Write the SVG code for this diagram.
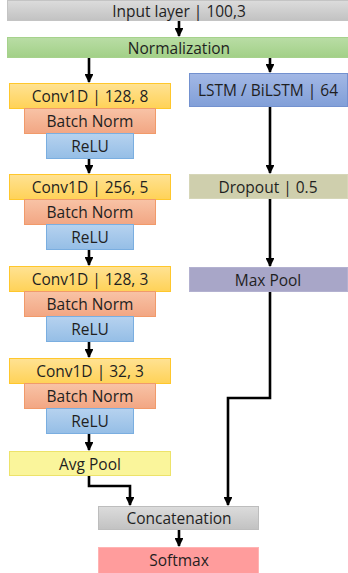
<svg xmlns="http://www.w3.org/2000/svg" width="348" height="573" viewBox="0 0 348 573">
  <defs>
    <linearGradient id="gGray" x1="0" y1="0" x2="0" y2="1"><stop offset="0" stop-color="#dcdcdc"/><stop offset="1" stop-color="#c2c2c2"/></linearGradient>
    <linearGradient id="gGreen" x1="0" y1="0" x2="0" y2="1"><stop offset="0" stop-color="#b9dda5"/><stop offset="1" stop-color="#a2d087"/></linearGradient>
    <linearGradient id="gConv" x1="0" y1="0" x2="0" y2="1"><stop offset="0" stop-color="#ffe293"/><stop offset="1" stop-color="#ffd257"/></linearGradient>
    <linearGradient id="gBN" x1="0" y1="0" x2="0" y2="1"><stop offset="0" stop-color="#f8c3a6"/><stop offset="1" stop-color="#f2a683"/></linearGradient>
    <linearGradient id="gRelu" x1="0" y1="0" x2="0" y2="1"><stop offset="0" stop-color="#b6d2ef"/><stop offset="1" stop-color="#95bee6"/></linearGradient>
    <linearGradient id="gLstm" x1="0" y1="0" x2="0" y2="1"><stop offset="0" stop-color="#a3b8e5"/><stop offset="1" stop-color="#819fd8"/></linearGradient>
    <marker id="arrow" viewBox="0 0 10 10" refX="9" refY="5" markerWidth="3.4" markerHeight="3.4" orient="auto" markerUnits="strokeWidth">
      <path d="M0,0 L10,5 L0,10 Z" fill="#000"/>
    </marker>
  </defs>
  <style>
    text { font-family: "Open Sans", "Liberation Sans", sans-serif; font-size: 15.5px; fill: #1f1f1f; text-anchor: middle; dominant-baseline: central; }
    .edge { fill: none; stroke: #000; stroke-width: 2.6; marker-end: url(#arrow); }
    .conv { fill: url(#gConv); stroke: #ffc72c; stroke-width: 1; }
    .bn { fill: url(#gBN); stroke: #f19a6a; stroke-width: 1; }
    .relu { fill: url(#gRelu); stroke: #7aaee0; stroke-width: 1; }
  </style>

  <g id="input-layer">
    <rect x="7.5" y="0.5" width="341" height="20" fill="url(#gGray)" stroke="#c4c4c4"/>
    <text x="179" y="11">Input layer | 100,3</text>
  </g>
  <g id="normalization">
    <rect x="7.5" y="37.5" width="341" height="20" fill="url(#gGreen)" stroke="#a6d28c"/>
    <text x="179" y="47.5">Normalization</text>
  </g>

  <!-- convolutional branch -->
  <g id="conv1">
    <rect class="conv" x="9.5" y="83.5" width="161" height="25"/>
    <text x="90" y="96">Conv1D | 128, 8</text>
  </g>
  <g id="bn1">
    <rect class="bn" x="24.5" y="108.5" width="131" height="25"/>
    <text x="90" y="121">Batch Norm</text>
  </g>
  <g id="relu1">
    <rect class="relu" x="46.5" y="133.5" width="87" height="25"/>
    <text x="90" y="146">ReLU</text>
  </g>

  <g id="conv2">
    <rect class="conv" x="9.5" y="174.5" width="161" height="25"/>
    <text x="90" y="187">Conv1D | 256, 5</text>
  </g>
  <g id="bn2">
    <rect class="bn" x="24.5" y="199.5" width="131" height="25"/>
    <text x="90" y="212">Batch Norm</text>
  </g>
  <g id="relu2">
    <rect class="relu" x="46.5" y="224.5" width="87" height="25"/>
    <text x="90" y="237">ReLU</text>
  </g>

  <g id="conv3">
    <rect class="conv" x="9.5" y="266.5" width="161" height="25"/>
    <text x="90" y="279">Conv1D | 128, 3</text>
  </g>
  <g id="bn3">
    <rect class="bn" x="24.5" y="291.5" width="131" height="25"/>
    <text x="90" y="304">Batch Norm</text>
  </g>
  <g id="relu3">
    <rect class="relu" x="46.5" y="316.5" width="87" height="25"/>
    <text x="90" y="329">ReLU</text>
  </g>

  <g id="conv4">
    <rect class="conv" x="9.5" y="358.5" width="161" height="25"/>
    <text x="90" y="371">Conv1D | 32, 3</text>
  </g>
  <g id="bn4">
    <rect class="bn" x="24.5" y="383.5" width="131" height="25"/>
    <text x="90" y="396">Batch Norm</text>
  </g>
  <g id="relu4">
    <rect class="relu" x="46.5" y="408.5" width="87" height="25"/>
    <text x="90" y="421">ReLU</text>
  </g>

  <g id="avg-pool">
    <rect x="9.5" y="451.5" width="161" height="24" fill="#faf59b" stroke="#ede36a"/>
    <text x="90" y="463.5">Avg Pool</text>
  </g>

  <!-- recurrent branch -->
  <g id="lstm">
    <rect x="189.5" y="73.5" width="158" height="33" fill="url(#gLstm)" stroke="#7391cf"/>
    <text x="268" y="90">LSTM / BiLSTM | 64</text>
  </g>
  <g id="dropout">
    <rect x="189.5" y="174.5" width="158" height="24" fill="#cfcfad" stroke="#d6d6b8"/>
    <text x="268" y="186.5">Dropout | 0.5</text>
  </g>
  <g id="max-pool">
    <rect x="189.5" y="267.5" width="158" height="24" fill="#a8a6c8" stroke="#b3b1d0"/>
    <text x="268" y="279.5">Max Pool</text>
  </g>

  <!-- merge -->
  <g id="concatenation">
    <rect x="98.5" y="506.5" width="160" height="23" fill="url(#gGray)" stroke="#bdbdbd"/>
    <text x="179" y="518">Concatenation</text>
  </g>
  <g id="softmax">
    <rect x="98.5" y="547.5" width="160" height="26" fill="#ff9c9c" stroke="#ffb3b3"/>
    <text x="179" y="560">Softmax</text>
  </g>

  <g id="connectors">
    <path class="edge" d="M179,21 V36"/>
    <path class="edge" d="M89,58 V82"/>
    <path class="edge" d="M270,58 V72"/>
    <path class="edge" d="M89,159 V173"/>
    <path class="edge" d="M89,250 V265"/>
    <path class="edge" d="M89,342 V357"/>
    <path class="edge" d="M89,434 V450"/>
    <path class="edge" d="M270,107 V173"/>
    <path class="edge" d="M270,199 V266"/>
    <path class="edge" d="M270,292 V398 H228 V505"/>
    <path class="edge" d="M89,476 V486 H130 V505"/>
    <path class="edge" d="M179,530 V546"/>
  </g>
</svg>
